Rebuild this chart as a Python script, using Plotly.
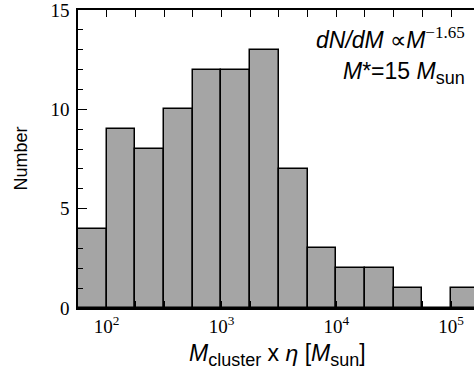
import plotly.graph_objects as go

# Histogram data: bins in log10(M), width 0.25 dex
bin_left_log = [1.75, 2.0, 2.25, 2.5, 2.75, 3.0, 3.25, 3.5, 3.75, 4.0, 4.25, 4.5, 4.75, 5.0]
counts = [4, 9, 8, 10, 12, 12, 13, 7, 3, 2, 2, 1, 0, 1]
bin_width = 0.25

x_tick_vals = [2, 3, 4, 5]
x_tick_text = ["10<sup>2</sup>", "10<sup>3</sup>", "10<sup>4</sup>", "10<sup>5</sup>"]
x_minor_vals = [1.75 + 0.25 * i for i in range(15)]
y_tick_vals = [0, 5, 10, 15]
y_tick_text = ["0", "5", "10", "15"]

centers = [b + bin_width / 2 for b in bin_left_log]

SERIF = "Liberation Serif, Times New Roman, serif"
SANS = "Liberation Sans, Arial, sans-serif"

fig = go.Figure()
fig.add_trace(go.Bar(
    x=centers, y=counts, width=[bin_width] * len(centers),
    marker=dict(color="#a5a5a5", line=dict(color="black", width=1.5)),
    showlegend=False, hoverinfo="skip",
))

fig.update_layout(
    width=474, height=374,
    margin=dict(l=78, r=0, t=8, b=66),
    paper_bgcolor="white", plot_bgcolor="white",
    bargap=0,
    xaxis=dict(
        range=[1.75, 5.2], tickmode="array", tickvals=x_tick_vals, ticktext=x_tick_text,
        ticks="inside", ticklen=7, tickwidth=1.2, tickcolor="black",
        minor=dict(tickmode="array", tickvals=x_minor_vals, ticks="inside", ticklen=7,
                   tickwidth=1.2, tickcolor="black", showgrid=False),
        showline=True, linecolor="black", linewidth=1.6, mirror="ticks",
        showgrid=False, zeroline=False, ticklabeloverflow="allow",
        tickfont=dict(family=SERIF, size=19, color="black"),
    ),
    yaxis=dict(
        range=[0, 15], tickmode="array", tickvals=y_tick_vals, ticktext=y_tick_text,
        ticks="inside", ticklen=9, tickwidth=1.2, tickcolor="black",
        minor=dict(dtick=1, ticks="inside", ticklen=5, tickwidth=1.2, tickcolor="black", showgrid=False),
        showline=True, linecolor="black", linewidth=1.6,
        showgrid=False, zeroline=False, ticklabeloverflow="allow", ticklabelstandoff=3,
        tickfont=dict(family=SERIF, size=19, color="black"),
    ),
    yaxis2=dict(
        overlaying="y", side="right", anchor="x", range=[0, 15],
        tickmode="array", tickvals=y_tick_vals, showticklabels=False,
        ticks="inside", ticklen=4, tickwidth=1.2, tickcolor="black",
        showline=False, showgrid=False, zeroline=False,
    ),
    annotations=[
        dict(xref="paper", yref="paper", x=-0.145, y=0.5, xanchor="center", yanchor="middle",
             text="Number", textangle=-90, showarrow=False,
             font=dict(family=SANS, size=18, color="black")),
        dict(xref="paper", yref="paper", x=0.505, y=-0.157, xanchor="center", yanchor="middle",
             text="<i>M</i><sub><span style='font-size:18px'>cluster</span></sub> x <i>η</i> "
                  "[<i>M</i><sub><span style='font-size:18px'>sun</span></sub>]",
             showarrow=False,
             font=dict(family=SANS, size=23, color="black")),
        dict(xref="paper", yref="paper", x=0.982, y=0.905, xanchor="right", yanchor="middle",
             text="<i>dN/dM</i> ∝<i>M</i><sup><span style='font-family:Liberation Serif;font-size:17px'>−1.65</span></sup>",
             showarrow=False, align="right",
             font=dict(family=SANS, size=23, color="black")),
        dict(xref="paper", yref="paper", x=0.982, y=0.79, xanchor="right", yanchor="middle",
             text="<i>M</i>*=15 <i>M</i><sub><span style='font-size:18px'>sun</span></sub>",
             showarrow=False, align="right",
             font=dict(family=SANS, size=23, color="black")),
    ],
)

fig.write_html("out.html", config={"displayModeBar": False},
               post_script="document.body.style.margin='0';")
